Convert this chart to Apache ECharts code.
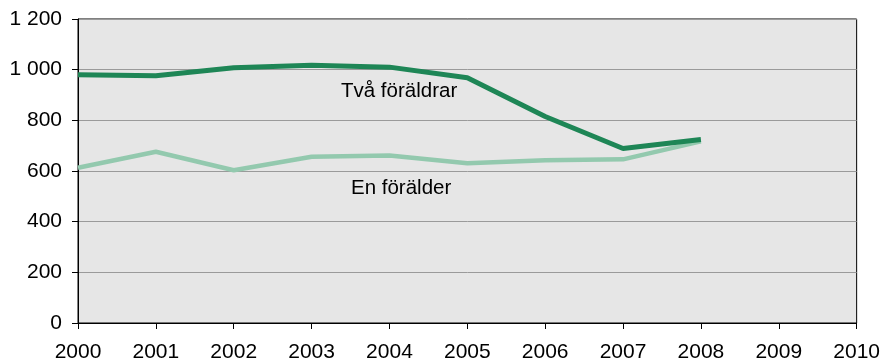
<!DOCTYPE html>
<html>
<head>
<meta charset="utf-8">
<script src="https://cdn.jsdelivr.net/npm/echarts@6/dist/echarts.min.js"></script>
<style>
  html, body { margin: 0; padding: 0; background: #ffffff; }
  #chart { width: 883px; height: 363px; }
</style>
</head>
<body>
<div id="chart"></div>
<script>
// Years on the horizontal axis
var years = ['2000', '2001', '2002', '2003', '2004', '2005', '2006', '2007', '2008', '2009', '2010'];

// Households with two parents
var tvaForaldrar = [980, 976, 1008, 1017, 1010, 968, 815, 689, 724, null, null];

// Households with one parent
var enForalder = [613, 676, 603, 656, 661, 631, 642, 646, 717, null, null];

var FONT = '"Liberation Sans", Arial, sans-serif';

function formatThousands(v) {
  return String(v).replace(/\B(?=(\d{3})+(?!\d))/g, ' ');
}

var chart = echarts.init(document.getElementById('chart'), null, { renderer: 'canvas' });

chart.setOption({
  animation: false,
  backgroundColor: '#ffffff',
  grid: {
    left: 78,
    right: 24,
    top: 19,
    bottom: 39,
    show: true,
    backgroundColor: '#e6e6e6',
    borderColor: '#000000',
    borderWidth: 1
  },
  xAxis: {
    type: 'category',
    data: years,
    boundaryGap: false,
    axisLine: { show: true, lineStyle: { color: '#000000', width: 1 } },
    axisTick: { show: true, inside: false, length: 6, lineStyle: { color: '#000000' } },
    axisLabel: {
      color: '#000000',
      fontFamily: FONT,
      fontSize: 21,
      margin: 19,
      interval: 0
    },
    splitLine: { show: false }
  },
  yAxis: {
    type: 'value',
    min: 0,
    max: 1200,
    interval: 200,
    axisLine: { show: true, lineStyle: { color: '#000000', width: 1 } },
    axisTick: { show: true, inside: false, length: 6, lineStyle: { color: '#000000' } },
    axisLabel: {
      color: '#000000',
      fontFamily: FONT,
      fontSize: 21,
      margin: 16,
      formatter: formatThousands
    },
    splitLine: { show: true, lineStyle: { color: '#9a9a9a', width: 1 } }
  },
  series: [
    {
      name: 'En förälder',
      type: 'line',
      data: enForalder,
      symbol: 'none',
      connectNulls: false,
      lineStyle: { color: '#93c9ae', width: 4.5 },
      z: 2
    },
    {
      name: 'Två föräldrar',
      type: 'line',
      data: tvaForaldrar,
      symbol: 'none',
      connectNulls: false,
      lineStyle: { color: '#1e8656', width: 5 },
      z: 3
    }
  ],
  graphic: [
    {
      type: 'text',
      left: 341,
      top: 81,
      style: {
        text: 'Två föräldrar',
        fill: '#000000',
        font: '20.5px ' + FONT
      },
      z: 10
    },
    {
      type: 'text',
      left: 351,
      top: 178,
      style: {
        text: 'En förälder',
        fill: '#000000',
        font: '20.5px ' + FONT
      },
      z: 10
    }
  ]
});
</script>
</body>
</html>
